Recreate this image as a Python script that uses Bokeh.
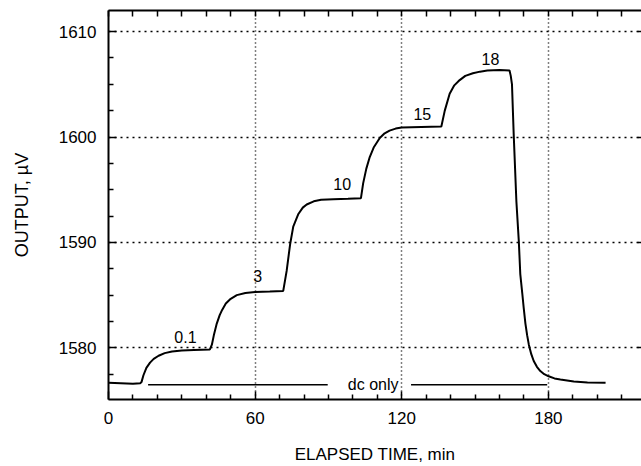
from bokeh.plotting import figure
from bokeh.models import (ColumnDataSource, LinearAxis, FixedTicker, Range1d)
from bokeh.core.properties import value
from bokeh.embed import file_html
from bokeh.resources import INLINE

# ---- data ----
time_min = [0, 5, 10, 13, 13.5, 14.3, 15.5, 17, 18.5, 20.5, 23, 26, 30, 35, 41.5,
            42.3, 43.2, 44.3, 45.5, 46.5, 48, 50, 52.5, 56, 60, 66, 71.5,
            72.9, 74.3, 75.6, 77.7, 79.5, 81.1, 84, 87, 92, 98, 103.3,
            104.2, 105.5, 106.9, 108.5, 111, 113, 115, 117.5, 120, 128, 136.2,
            137.6, 139.6, 141.5, 143.7, 146, 149.1, 152, 155, 160, 164.1,
            164.6, 165.1, 165.8, 166.9, 167.9, 168.5, 169.3, 169.9, 170.6, 171.3, 172.0, 173.0, 174.0,
            175.3, 176.7, 178.3, 180.1, 182.5, 184.9, 190.4, 196, 203.4]
output_uv = [1576.7, 1576.65, 1576.6, 1576.65, 1576.75, 1577.4, 1578.1, 1578.6, 1578.95, 1579.25,
             1579.5, 1579.65, 1579.75, 1579.8, 1579.85,
             1580.3, 1581.3, 1582.3, 1583.1, 1583.6, 1584.2, 1584.65, 1585.0, 1585.2, 1585.3, 1585.35, 1585.4,
             1587.3, 1589.8, 1591.5, 1592.7, 1593.3, 1593.6, 1593.9, 1594.05, 1594.1, 1594.15, 1594.2,
             1595.6, 1597.0, 1598.1, 1599.0, 1599.9, 1600.35, 1600.6, 1600.8, 1600.9, 1600.95, 1601.0,
             1602.5, 1604.1, 1604.9, 1605.4, 1605.8, 1606.05, 1606.2, 1606.3, 1606.35, 1606.3,
             1605.8, 1605.0, 1600.3, 1593.9, 1590.1, 1587.0, 1585.2, 1583.8, 1582.3, 1581.2, 1580.3, 1579.4, 1578.75,
             1578.2, 1577.8, 1577.5, 1577.3, 1577.1, 1577.0, 1576.8, 1576.72, 1576.7]

step_labels = ["0.1", "3", "10", "15", "18"]
step_label_x = [31.5, 61.1, 95.6, 128.4, 156.3]
step_label_y = [1581.0, 1586.8, 1595.5, 1602.2, 1607.4]

dc_start = [16.2, 123.8]
dc_end = [89.7, 179.5]
dc_level = [1576.5, 1576.5]
dc_text = ["dc only"]
dc_text_x = [108.3]
dc_text_y = [1576.5]

x_major = [0, 60, 120, 180]
x_minor = [10, 20, 30, 40, 50, 70, 80, 90, 100, 110, 130, 140, 150, 160, 170, 190, 200, 210]
y_major = [1580, 1590, 1600, 1610]
y_minor = [1575, 1577.5, 1582.5, 1585, 1587.5, 1592.5, 1595, 1597.5, 1602.5, 1605, 1607.5]

FONT = "Liberation Sans"

p = figure(width=641, height=466, output_backend="svg", toolbar_location=None,
           x_range=Range1d(0, 218.1), y_range=Range1d(1575.1, 1612.0),
           min_border_left=108, min_border_right=0, min_border_top=10, min_border_bottom=10,
           x_axis_label="ELAPSED TIME, min", y_axis_label="OUTPUT, \u00b5V")
p.outline_line_color = None
p.background_fill_color = "white"
p.border_fill_color = "white"

xt = FixedTicker(ticks=x_major, minor_ticks=x_minor)
yt = FixedTicker(ticks=y_major, minor_ticks=y_minor)

for ax in (p.xaxis[0], p.yaxis[0]):
    ax.axis_line_width = 2
    ax.axis_line_color = "black"
    ax.major_tick_in = 8
    ax.major_tick_out = 0
    ax.minor_tick_in = 5
    ax.minor_tick_out = 0
    ax.major_tick_line_width = 1.5
    ax.minor_tick_line_width = 1.5
    ax.major_tick_line_color = "black"
    ax.minor_tick_line_color = "black"
    ax.major_label_text_font = FONT
    ax.major_label_text_font_size = "17px"
    ax.major_label_text_color = "black"
    ax.major_label_standoff = 12
    ax.axis_label_text_font = FONT
    ax.axis_label_text_font_style = "normal"
    ax.axis_label_text_color = "black"
p.xaxis[0].ticker = xt
p.yaxis[0].ticker = yt
p.xaxis[0].axis_label_text_font_size = "17px"
p.yaxis[0].axis_label_text_font_size = "18px"
p.xaxis[0].axis_label_standoff = 18
p.yaxis[0].axis_label_standoff = 24

# frame ticks on top and right (no labels)
top = LinearAxis(ticker=FixedTicker(ticks=[], minor_ticks=x_major + x_minor),
                 axis_line_width=2, minor_tick_in=6, minor_tick_out=0,
                 minor_tick_line_width=1.5, major_label_standoff=0)
p.add_layout(top, "above")
right = LinearAxis(ticker=FixedTicker(ticks=[], minor_ticks=y_major),
                   axis_line_color=None, minor_tick_in=4, minor_tick_out=0,
                   minor_tick_line_width=1.5, major_label_standoff=0)
p.add_layout(right, "right")

p.xgrid.ticker = xt
p.ygrid.ticker = yt
p.xgrid.grid_line_color = "black"
p.ygrid.grid_line_color = "black"
p.xgrid.grid_line_dash = "1 3"
p.ygrid.grid_line_dash = "2 4"
p.xgrid.grid_line_width = 1.5
p.ygrid.grid_line_width = 1.5

p.line(time_min, output_uv, line_color="black", line_width=2)

p.segment(x0=dc_start, y0=dc_level, x1=dc_end, y1=dc_level, line_color="black", line_width=1.5)

lbl = ColumnDataSource(dict(x=step_label_x, y=step_label_y, t=step_labels))
p.text(x="x", y="y", text="t", source=lbl, text_font=value(FONT), text_font_size="16px",
       text_align="center", text_baseline="middle", text_color="black")
dc = ColumnDataSource(dict(x=dc_text_x, y=dc_text_y, t=dc_text))
p.text(x="x", y="y", text="t", source=dc, text_font=value(FONT), text_font_size="16px",
       text_align="center", text_baseline="middle", text_color="black")

open("out.html", "w").write(file_html(p, INLINE))
